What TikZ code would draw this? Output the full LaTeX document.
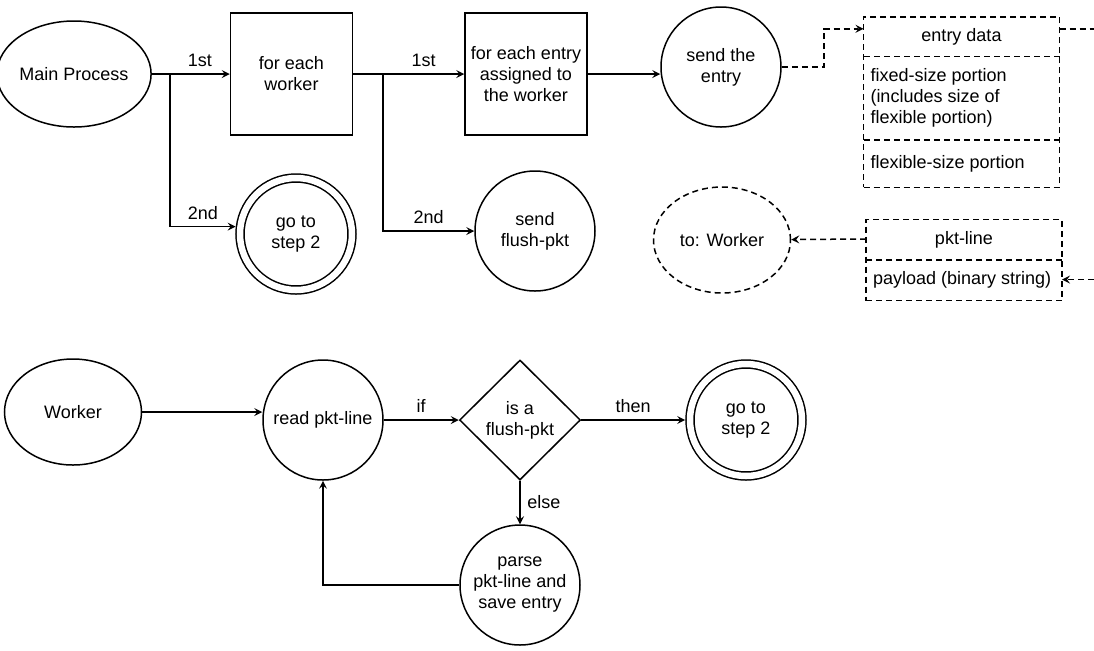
\documentclass[tikz,border=0pt]{standalone}
\usepackage{fontspec}
\setmainfont{Liberation Sans}
\usepackage{tikz}
\usetikzlibrary{positioning, shapes.geometric, shapes.multipart}

\begin{document}
\begin{tikzpicture}[
  x=0.5pt, y=-0.5pt,
  line width=0.75pt,
  font=\fontsize{9}{10.5}\selectfont,
  proc/.style={ellipse, draw, minimum width=68.5pt, minimum height=53pt, inner sep=0pt, align=center},
  loopbox/.style={rectangle, draw, minimum width=61pt, minimum height=61pt, inner sep=0pt, align=center},
  stepcirc/.style={circle, draw, minimum size=60pt, inner sep=0pt, align=center},
  endcirc/.style={circle, draw, double, double distance=3.25pt, minimum size=56pt, inner sep=0pt, outer sep=2.4pt, align=center},
  choice/.style={diamond, draw, minimum width=60.5pt, minimum height=60pt, inner sep=0pt, align=center},
  layout/.style={rectangle split, draw, dash pattern=on 3pt off 2pt, inner xsep=3.5pt, inner ysep=0pt, outer sep=0pt},
  arrow/.style={->, >=stealth},
  dasharrow/.style={->, >=stealth, dash pattern=on 3pt off 2pt},
  dashline/.style={dash pattern=on 3pt off 2pt}
]
\useasboundingbox (0,0) rectangle (1094,650);
% Main process
\node[proc] (main) at (74,74) {Main Process};
\node[loopbox] (eachw) at (291.5,74) {for each\\worker};
\node[loopbox] (eache) at (526,74) {for each entry\\assigned to\\the worker};
\node[stepcirc] (send) at (721,67) {send the\\entry};
\node[endcirc] (goa) at (296,234) {go to\\step 2};
\node[stepcirc] (flush) at (535,231) {send\\flush-pkt};
\node[proc, dash pattern=on 3pt off 2pt] (towk) at (722,240) {to: Worker};
% Layouts
\node[layout, rectangle split parts=3] (entry) at (961.5,102)
  {\parbox[c][19pt][c]{91pt}{\centering entry data}
   \nodepart{two}\parbox[c][41pt][c]{91pt}{\raggedright fixed-size portion\\(includes size of\\flexible portion)}
   \nodepart{three}\parbox[c][23pt][c]{91pt}{\raggedright flexible-size portion}};
\node[layout, rectangle split parts=2] (pkt) at (964,260)
  {\parbox[c][19.5pt][c]{91pt}{\centering pkt-line}
   \nodepart{two}\parbox[c][19.5pt][c]{91pt}{\raggedright payload (binary string)}};
\coordinate (b1) at (170,74);
\coordinate (b2) at (383,74);
\coordinate (out1) at (1094,31);
\coordinate (in1) at (1094,279.5);
% Worker
\node[proc] (wk) at (73,412) {Worker};
\node[stepcirc] (read) at (323,420) {read pkt-line};
\node[choice] (isfl) at (520,420) {is a\\flush-pkt};
\node[endcirc] (gob) at (746,420) {go to\\step 2};
\node[stepcirc] (parse) at (520,585) {parse\\pkt-line and\\save entry};
% Arrows
\draw (main) -- (b1);
\draw[arrow] (b1) -- node[above] {1st} (eachw);
\draw[arrow] (b1) |- node[above, pos=0.75] {2nd} (goa.173);
\draw (eachw) -- (b2);
\draw[arrow] (b2) -- node[above] {1st} (eache);
\draw[arrow] (b2) |- node[above, pos=0.75] {2nd} (flush);
\draw[arrow] (eache.east) -- (eache.east -| send.west);
\draw[dasharrow] (send.east) -- ++(42,0) |- ([yshift=-6pt]entry.north west);
\draw[dashline] ([yshift=-6pt]entry.north east) coordinate (eo) -- (eo -| out1);
\draw[dasharrow] (in1) -- (in1 -| pkt.east);
\draw[dasharrow] ([yshift=-9.75pt]pkt.north west) -- (towk);
\draw[arrow] (wk.east) -- (wk.east -| read.west);
\draw[arrow] (read) -- node[above] {if} (isfl);
\draw[arrow] (isfl) -- node[above] {then} (gob);
\draw[arrow] (isfl) -- node[right] {else} (parse);
\draw[arrow] (parse.west) -| (read.south);
\end{tikzpicture}
\end{document}
